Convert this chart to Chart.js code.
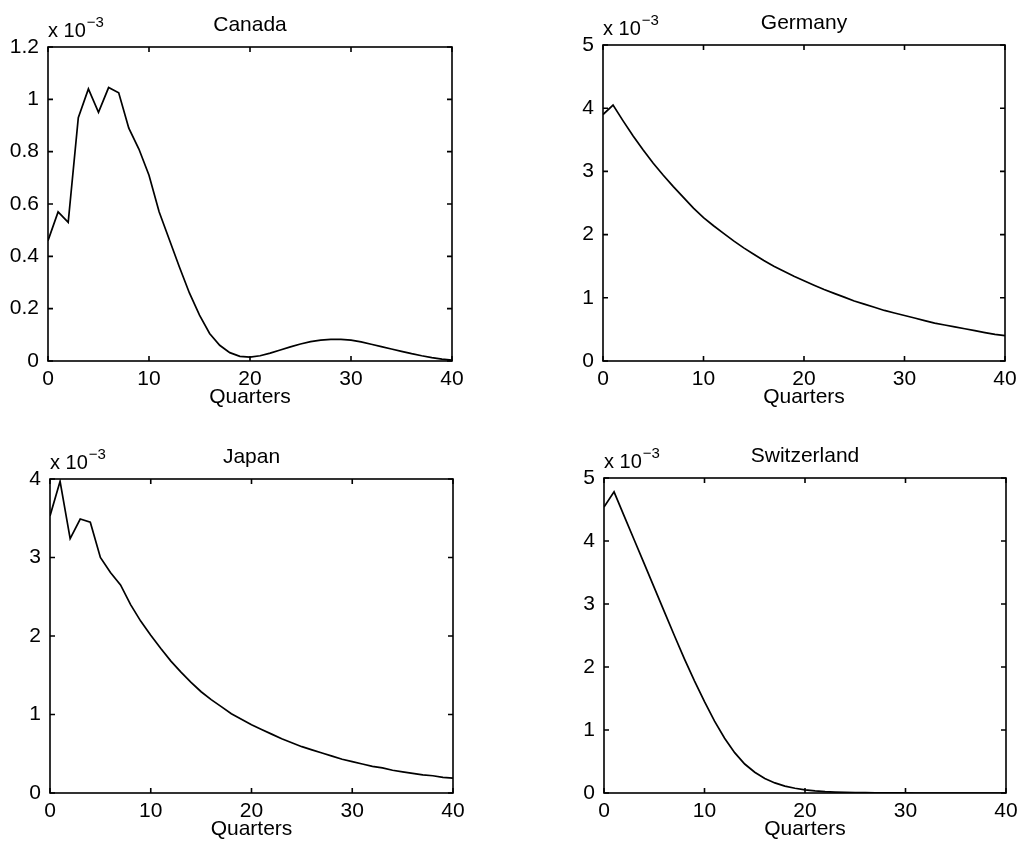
<!DOCTYPE html>
<html>
<head>
<meta charset="utf-8">
<script src="https://cdn.jsdelivr.net/npm/chart.js@4.4.1/dist/chart.umd.min.js"></script>
<style>
  body { margin: 0; background: #fff; overflow: hidden; width: 1018px; height: 847px; position: relative; }
  canvas { position: absolute; }
</style>
</head>
<body>
<canvas id="canada" width="480" height="408" style="left:0px;top:0px"></canvas>
<canvas id="germany" width="463" height="408" style="left:555px;top:0px"></canvas>
<canvas id="japan" width="480" height="410" style="left:0px;top:430px"></canvas>
<canvas id="switzerland" width="463" height="410" style="left:555px;top:430px"></canvas>
<script>
// quarters after the shock
const quarters = [0, 1, 2, 3, 4, 5, 6, 7, 8, 9, 10, 11, 12, 13, 14, 15, 16, 17, 18, 19, 20,
                  21, 22, 23, 24, 25, 26, 27, 28, 29, 30, 31, 32, 33, 34, 35, 36, 37, 38, 39, 40];
const xTicks = [0, 10, 20, 30, 40];

// values in units of 10^-3
const canada = [0.46, 0.57, 0.53, 0.93, 1.04, 0.95, 1.045, 1.025, 0.89, 0.81, 0.71,
                0.57, 0.465, 0.36, 0.26, 0.175, 0.105, 0.06, 0.032, 0.018, 0.015,
                0.02, 0.03, 0.042, 0.054, 0.065, 0.074, 0.08, 0.083, 0.083, 0.08,
                0.073, 0.064, 0.055, 0.046, 0.037, 0.028, 0.02, 0.013, 0.007, 0.003];
const germany = [3.90, 4.05, 3.80, 3.56, 3.34, 3.13, 2.94, 2.76, 2.59, 2.42, 2.27,
                 2.14, 2.02, 1.90, 1.79, 1.69, 1.59, 1.50, 1.42, 1.34, 1.27,
                 1.20, 1.13, 1.07, 1.01, 0.95, 0.90, 0.85, 0.80, 0.76, 0.72,
                 0.68, 0.64, 0.60, 0.57, 0.54, 0.51, 0.48, 0.45, 0.42, 0.40];
const japan = [3.53, 3.97, 3.24, 3.49, 3.45, 3.00, 2.81, 2.65, 2.40, 2.19, 2.01,
               1.84, 1.68, 1.54, 1.41, 1.29, 1.19, 1.10, 1.01, 0.94, 0.87,
               0.81, 0.75, 0.69, 0.64, 0.59, 0.55, 0.51, 0.47, 0.43, 0.40,
               0.37, 0.34, 0.32, 0.29, 0.27, 0.25, 0.23, 0.22, 0.20, 0.19];
const switzerland = [4.54, 4.78, 4.40, 4.02, 3.64, 3.26, 2.88, 2.50, 2.13, 1.78, 1.45,
                     1.14, 0.87, 0.64, 0.46, 0.33, 0.23, 0.16, 0.11, 0.075, 0.05,
                     0.033, 0.022, 0.015, 0.01, 0.007, 0.005, 0.003, 0.002, 0.001, 0.001,
                     0, 0, 0, 0, 0, 0, 0, 0, 0, 0];

const canadaTicks = [0, 0.2, 0.4, 0.6, 0.8, 1, 1.2];
const germanyTicks = [0, 1, 2, 3, 4, 5];
const japanTicks = [0, 1, 2, 3, 4];
const switzerlandTicks = [0, 1, 2, 3, 4, 5];

const FONT = '"Liberation Sans", Arial, Helvetica, sans-serif';
const tickFont = { family: FONT, size: 21, lineHeight: 1 };

// matlab style box: frame, inward ticks, title and the x 10^-3 factor
const matlabFrame = {
  id: 'matlabFrame',
  afterDraw(chart, args, opts) {
    const { ctx, chartArea: a, scales: { x, y } } = chart;
    ctx.save();
    ctx.strokeStyle = '#000';
    ctx.lineWidth = 1.6;
    ctx.strokeRect(a.left, a.top, a.right - a.left, a.bottom - a.top);
    ctx.beginPath();
    x.ticks.forEach(t => {
      const px = x.getPixelForValue(t.value);
      ctx.moveTo(px, a.bottom); ctx.lineTo(px, a.bottom - 5);
      ctx.moveTo(px, a.top); ctx.lineTo(px, a.top + 5);
    });
    y.ticks.forEach(t => {
      const py = y.getPixelForValue(t.value);
      ctx.moveTo(a.left, py); ctx.lineTo(a.left + 5, py);
      ctx.moveTo(a.right, py); ctx.lineTo(a.right - 5, py);
    });
    ctx.stroke();

    ctx.fillStyle = '#000';
    ctx.font = '21px ' + FONT;
    ctx.textBaseline = 'alphabetic';
    ctx.textAlign = 'center';
    ctx.fillText(opts.title, (a.left + a.right) / 2, a.top - 16);
    ctx.textAlign = 'left';
    ctx.font = '20px ' + FONT;
    ctx.fillText('x 10', a.left, a.top - 10);
    const w = ctx.measureText('x 10').width;
    ctx.font = '15px ' + FONT;
    ctx.fillText('\u22123', a.left + w + 1, a.top - 20);
    ctx.restore();
  }
};

function makeChart(id, title, values, yTicks, yWidth, padTop, padRight) {
  const yMax = yTicks[yTicks.length - 1];
  return new Chart(document.getElementById(id), {
    type: 'line',
    data: {
      labels: quarters,
      datasets: [{
        data: values,
        borderColor: '#000',
        borderWidth: 1.7,
        pointRadius: 0,
        tension: 0,
        fill: false
      }]
    },
    plugins: [matlabFrame],
    options: {
      responsive: false,
      animation: false,
      devicePixelRatio: 1,
      layout: { padding: { top: padTop, right: padRight, left: 0, bottom: 0 } },
      plugins: {
        legend: { display: false },
        tooltip: { enabled: false },
        matlabFrame: { title: title }
      },
      scales: {
        x: {
          type: 'linear',
          min: 0,
          max: 40,
          grid: { display: false, drawTicks: false },
          border: { display: false },
          afterBuildTicks: s => { s.ticks = xTicks.map(v => ({ value: v })); },
          afterFit: s => { s.height = 47; s.paddingLeft = 0; s.paddingRight = 0; },
          ticks: { padding: 8, color: '#000', font: tickFont, maxRotation: 0, autoSkip: false },
          title: { display: true, text: 'Quarters', color: '#000', font: tickFont, padding: 0 }
        },
        y: {
          min: 0,
          max: yMax,
          grid: { display: false, drawTicks: false },
          border: { display: false },
          afterBuildTicks: s => { s.ticks = yTicks.map(v => ({ value: v })); },
          afterFit: s => { s.width = yWidth; s.paddingTop = 0; s.paddingBottom = 0; },
          ticks: {
            padding: 9,
            color: '#000',
            font: tickFont,
            autoSkip: false,
            callback: v => String(Math.round(v * 10) / 10)
          }
        }
      }
    }
  });
}

makeChart('canada', 'Canada', canada, canadaTicks, 48, 47, 28);
makeChart('germany', 'Germany', germany, germanyTicks, 48, 45, 13);
makeChart('japan', 'Japan', japan, japanTicks, 50, 49, 27);
makeChart('switzerland', 'Switzerland', switzerland, switzerlandTicks, 49, 48, 12);
</script>
</body>
</html>
